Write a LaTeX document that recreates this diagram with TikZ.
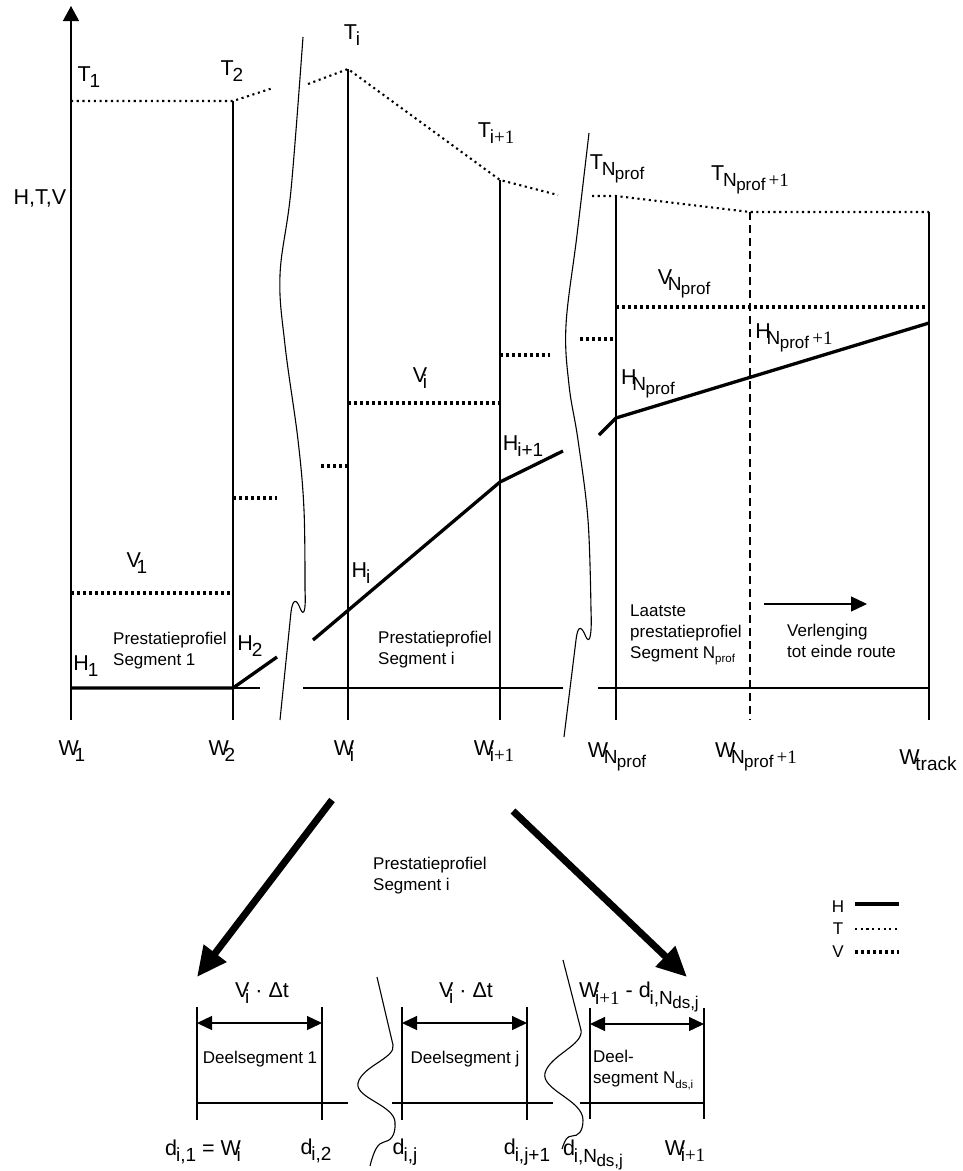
\documentclass[tikz,border=0pt]{standalone}
\usepackage{fontspec}
\setmainfont{Liberation Sans}
\newfontfamily\serf{Liberation Serif}
\usetikzlibrary{arrows.meta}
\newcommand\bigf{\fontsize{21.5}{23}\selectfont}
\newcommand\smf{\fontsize{17}{21}\selectfont}
\newcommand\sbs[1]{\kern-0.05em\raisebox{-0.3em}{\fontsize{19}{20}\selectfont #1}}
\newcommand\osbs[1]{\kern-0.2em\raisebox{-0.3em}{\fontsize{19}{20}\selectfont #1}}
\newcommand\ssbs[1]{\kern-0.03em\raisebox{-0.22em}{\fontsize{17}{18}\selectfont #1}}
\newcommand\tsbs[1]{\raisebox{-0.25em}{\fontsize{11.5}{12}\selectfont #1}}
\begin{document}
\begin{tikzpicture}[x=1pt,y=-1pt,
  thinl/.style={line width=1.3pt},
  hline/.style={line width=3.3pt},
  tdot/.style={line width=2.1pt, dash pattern=on 2.1pt off 3.6pt},
  vdot/.style={line width=3.2pt, dash pattern=on 3.2pt off 2.8pt},
  dline/.style={line width=1.3pt, dash pattern=on 8pt off 5pt},
  brk/.style={line width=1.1pt},
  lab/.style={font=\bigf, inner sep=0pt},
  small/.style={font=\smf, inner sep=0pt, align=left, anchor=west},
  bigarrow/.style={line width=7pt, -{Triangle[length=30pt,width=27pt]}},
  dimarrow/.style={line width=1.3pt, {Triangle[length=15pt,width=14pt]}-{Triangle[length=15pt,width=14pt]}}
]
\useasboundingbox (0,0) rectangle (962,1171);

% ---------- axis ----------
\coordinate (ax0) at (71,720);
\coordinate (ax1) at (71,6);
\draw[thinl, -{Triangle[length=15pt,width=16pt]}] (ax0) -- (ax1);

% ---------- vertical lines ----------
\coordinate (w2t) at (233,101); \coordinate (w2b) at (233,720);
\coordinate (wit) at (348,69);  \coordinate (wib) at (348,720);
\coordinate (wjt) at (500,180); \coordinate (wjb) at (500,720);
\coordinate (wnt) at (616,196); \coordinate (wnb) at (616,720);
\coordinate (wmt) at (750,212); \coordinate (wmb) at (750,720);
\coordinate (wtt) at (929,212); \coordinate (wtb) at (929,720);
\draw[thinl] (w2t) -- (w2b);
\draw[thinl] (wit) -- (wib);
\draw[thinl] (wjt) -- (wjb);
\draw[thinl] (wnt) -- (wnb);
\draw[dline] (wmt) -- (wmb);
\draw[thinl] (wtt) -- (wtb);

% ---------- base line ----------
\draw[thinl] (71,688) -- (260,688);
\draw[thinl] (303,688) -- (563,688);
\draw[thinl] (598,688) -- (929,688);

% ---------- T lines ----------
\draw[tdot] (71,101) -- (w2t) -- (273,88);
\draw[tdot] (308,84) -- (wit) -- (wjt) -- (558,195);
\draw[tdot] (592,196) -- (wnt) -- (wmt) -- (wtt);

% ---------- V lines ----------
\draw[vdot] (71,593) -- (233,593);
\draw[vdot] (233,498) -- (277,498);
\draw[vdot] (321,466) -- (348,466);
\draw[vdot] (348,403) -- (500,403);
\draw[vdot] (500,355) -- (550,355);
\draw[vdot] (580,339) -- (613,339);
\draw[vdot] (616,307) -- (929,307);

% ---------- H lines ----------
\draw[hline] (71,688) -- (233,688) -- (277,657);
\draw[hline] (313,640) -- (500,482) -- (563,451);
\draw[hline] (599,435) -- (616,418) -- (929,323);

% ---------- break curves ----------
\draw[brk] plot[smooth, tension=0.6] coordinates {(303,37) (291,190) (280,275) (285,345) (298,440) (304,510) (305,590)};
\draw[brk] (305,590) .. controls (306,610) and (304,618) .. (300,608) .. controls (297,600) and (293,597) .. (291,612) -- (280,720);
\draw[brk] plot[smooth, tension=0.6] coordinates {(589,133) (577,235) (566,325) (569,385) (578,440) (588,520) (591,610)};
\draw[brk] (591,610) .. controls (592,634) and (590,645) .. (586,637) .. controls (582,627) and (578,623) .. (576,640) -- (564,737);

% ---------- labels top ----------
\node[lab] (lT1) at (89,77) {T\sbs{1}};
\node[lab] (lT2) at (232,71) {T\sbs{2}};
\node[lab] (lHTV) at (40,198) {H,T,V};
\node[lab] (lTi) at (352,35) {T\sbs{i}};
\node[lab] (lTi1) at (496,133) {T\sbs{i{\serf +1}}};
\node[lab] (lTN) at (617,169) {T\sbs{N\ssbs{prof}}};
\node[lab] (lTN1) at (750,180) {T\sbs{N\ssbs{prof}\,{\serf +1}}};
\node[lab] (lVN) at (684,284) {V\osbs{N\ssbs{prof}}};
\node[lab] (lHN1) at (794,338) {H\osbs{N\ssbs{prof}\,{\serf +1}}};
\node[lab] (lHN) at (648,384) {H\osbs{N\ssbs{prof}}};
\node[lab] (lVi) at (420,378) {V\osbs{i}};
\node[lab] (lHi1) at (523,446) {H\sbs{i+1}};
\node[lab] (lV1) at (137,563) {V\osbs{1}};
\node[lab] (lHi) at (361,573) {H\sbs{i}};
\node[lab] (lH1) at (86,666) {H\sbs{1}};
\node[lab] (lH2) at (250,646) {H\sbs{2}};

% ---------- W labels ----------
\node[lab] (lW1) at (72,751) {W\osbs{1}};
\node[lab] (lW2) at (222,751) {W\osbs{2}};
\node[lab] (lWi) at (344,751) {W\osbs{i}};
\node[lab] (lWi1) at (494,751) {W\osbs{i{\serf +1}}};
\node[lab] (lWN) at (617,757) {W\osbs{N\ssbs{prof}}};
\node[lab] (lWN1) at (756,757) {W\osbs{N\ssbs{prof}\,{\serf +1}}};
\node[lab] (lWt) at (928,760) {W\osbs{track}};

% ---------- small texts top ----------
\node[small] (s1) at (113,651) {Prestatieprofiel\\Segment 1};
\node[small] (si) at (378,650) {Prestatieprofiel\\Segment i};
\node[small] (sn) at (630,635) {Laatste\\prestatieprofiel\\Segment N\tsbs{prof}};
\node[small] (sv) at (787,641) {Verlenging\\tot einde route};
\coordinate (va0) at (764,604);
\coordinate (va1) at (867,604);
\draw[thinl, -{Triangle[length=16pt,width=15pt]}] (va0) -- (va1);

% ---------- big arrows ----------
\coordinate (ba0) at (332,800);
\coordinate (ba1) at (197,977);
\coordinate (bb0) at (513,811);
\coordinate (bb1) at (687,977);
\draw[bigarrow] (ba0) -- (ba1);
\draw[bigarrow] (bb0) -- (bb1);
\node[small] (sm) at (373,876) {Prestatieprofiel\\Segment i};

% ---------- legend ----------
\node[font=\smf, inner sep=0pt] (gH) at (838,907) {H};
\node[font=\smf, inner sep=0pt] (gT) at (838,929) {T};
\node[font=\smf, inner sep=0pt] (gV) at (838,952) {V};
\draw[hline] (855,904) -- (899,904);
\draw[tdot] (855,929) -- (899,929);
\draw[vdot] (855,952) -- (899,952);

% ---------- bottom boxes ----------
\draw[thinl] (197,1007) -- (197,1120);
\draw[thinl] (322,1007) -- (322,1120);
\draw[thinl] (402,1007) -- (402,1120);
\draw[thinl] (527,1007) -- (527,1120);
\draw[thinl] (590,1008) -- (590,1119);
\draw[thinl] (704,1008) -- (704,1119);
\draw[thinl] (197,1103) -- (348,1103);
\draw[thinl] (392,1103) -- (553,1103);
\draw[thinl] (580,1103) -- (704,1103);
\draw[dimarrow] (197,1023) -- (322,1023);
\draw[dimarrow] (402,1023) -- (527,1023);
\draw[dimarrow] (590,1024) -- (704,1024);

\draw[brk] (377,977) -- (393,1045) .. controls (396,1058) and (362,1066) .. (358,1083) .. controls (355,1098) and (394,1105) .. (395,1122) .. controls (396,1136) and (390,1141) .. (384,1142) .. controls (378,1143) and (374,1150) .. (370,1166);
\draw[brk] (563,960) -- (581,1030) .. controls (584,1045) and (550,1055) .. (545,1073) .. controls (541,1090) and (583,1100) .. (583,1120) .. controls (583,1132) and (578,1136) .. (572,1136) .. controls (567,1136) and (565,1140) .. (562,1149);

\node[lab] (bv1) at (262,993) {V\osbs{i}\ · Δt};
\node[lab] (bv2) at (466,993) {V\osbs{i}\ · Δt};
\node[lab] (bv3) at (639,997) {W\osbs{i{\serf +1}} - d\sbs{i,N\ssbs{ds,j}}};
\node[font=\smf, inner sep=0pt] (bd1) at (260,1059) {Deelsegment 1};
\node[font=\smf, inner sep=0pt] (bd2) at (465,1059) {Deelsegment j};
\node[small] (bd3) at (593,1070) {Deel-\\segment N\tsbs{ds,i}};

\node[lab] (ld1) at (203,1152) {d\sbs{i,1} = W\osbs{i}};
\node[lab] (ld2) at (316,1151) {d\sbs{i,2}};
\node[lab] (ld3) at (405,1152) {d\sbs{i,j}};
\node[lab] (ld4) at (527,1152) {d\sbs{i,j+1}};
\node[lab] (ld5) at (593,1155) {d\sbs{i,N\ssbs{ds,j}}};
\node[lab] (ld6) at (685,1151) {W\osbs{i{\serf +1}}};
\end{tikzpicture}
\end{document}
